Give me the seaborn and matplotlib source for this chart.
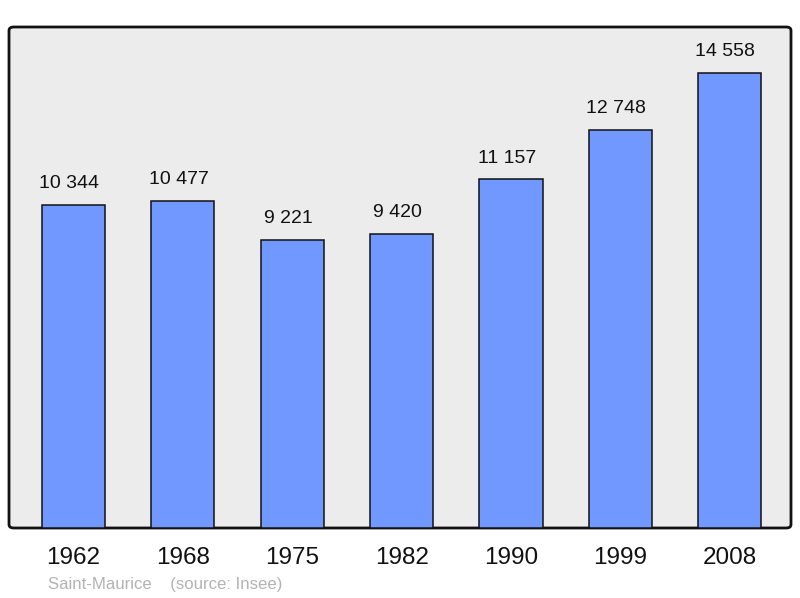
import pandas as pd
import seaborn as sns
import matplotlib
matplotlib.use("Agg")
from matplotlib import pyplot as plt
from matplotlib.patches import FancyBboxPatch

# population data
years = ["1962", "1968", "1975", "1982", "1990", "1999", "2008"]
population = [10344, 10477, 9221, 9420, 11157, 12748, 14558]
labels = ["10 344", "10 477", "9 221", "9 420", "11 157", "12 748", "14 558"]

df = pd.DataFrame({"year": years, "pop": population})

sns.set_theme(style="white")
plt.rcParams["font.family"] = ["Liberation Sans", "DejaVu Sans"]

fig = plt.figure(figsize=(8, 5.98), dpi=100)
# axes box in pixels: left 9, top 27, right 791, bottom 528
ax = fig.add_axes([9 / 800, 1 - 528 / 598, 782 / 800, 501 / 598])
ax.set_facecolor("none")

sns.barplot(data=df, x="year", y="pop", ax=ax, color="#7098ff", saturation=1,
            width=0.577, edgecolor="#111111", linewidth=1.1, zorder=3)

# value labels sit a little left of the bar centre in the original
for i, (v, t) in enumerate(zip(population, labels)):
    ax.text(i - 0.04, v + 410, t, ha="center", va="bottom", fontsize=14, color="#111111")

ax.set_xlim(-0.59, 6.56)
ax.set_ylim(0, 16032)
ax.set_xlabel(None)
ax.set_ylabel(None)
ax.set_yticks([])
ax.tick_params(axis="x", length=0, pad=13.5, labelsize=17.5, labelcolor="#111111")
for s in ax.spines.values():
    s.set_visible(False)

# rounded frame with grey fill, behind the axes
frame = FancyBboxPatch((9 / 800, 1 - 528 / 598), 782 / 800, 501 / 598,
                       boxstyle="round,pad=0,rounding_size=0.006",
                       transform=fig.transFigure, facecolor="#ececec",
                       edgecolor="#111111", linewidth=2, zorder=-1)
fig.patches.append(frame)

fig.text(48 / 800, 1 - 584.5 / 598, "Saint-Maurice    (source: Insee)",
         fontsize=12.1, color="#b3b3b3", va="center", ha="left")

fig.savefig("out.png", dpi=100)
